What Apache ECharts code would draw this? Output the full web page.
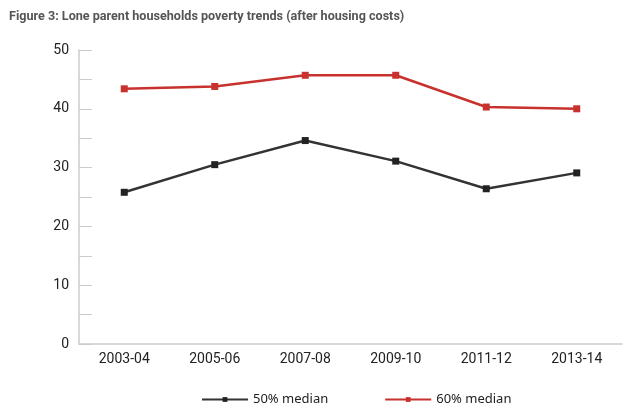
<!DOCTYPE html>
<html><head><meta charset="utf-8">
<script src="https://cdn.jsdelivr.net/npm/echarts@6/dist/echarts.min.js"></script>
<style>html,body{margin:0;padding:0;background:#fff}#c{width:632px;height:418px}</style>
</head><body><div id="c"></div>
<script>
var categories = ['2003-04','2005-06','2007-08','2009-10','2011-12','2013-14'];
var median50 = [25.8, 30.5, 34.6, 31.1, 26.4, 29.1];
var median60 = [43.4, 43.8, 45.7, 45.7, 40.3, 40.0];
var seriesNames = ['50% median','60% median'];
var yTicks = [0,10,20,30,40,50];

var chart = echarts.init(document.getElementById('c'), null, {renderer:'canvas'});
var font = '"Liberation Sans Narrow","Roboto","DejaVu Sans",sans-serif';
chart.setOption({
  animation:false,
  title:{text:'Figure 3: Lone parent households poverty trends (after housing costs)',left:4,top:5,
    textStyle:{fontFamily:font,fontSize:12.6,fontWeight:'bold',color:'#555'}},
  grid:{left:79,right:10,top:50,bottom:74},
  legend:{bottom:7,left:196,itemGap:56,itemWidth:46,itemHeight:6,
    textStyle:{fontFamily:'"Noto Sans",sans-serif',fontSize:13,color:'#222',padding:[0,0,0,0]},
    data:[seriesNames[0],seriesNames[1]]},
  xAxis:{type:'category',data:categories,boundaryGap:true,
    axisLine:{lineStyle:{color:'#ccc',width:1.5}},
    axisTick:{inside:true,length:8,lineStyle:{color:'#ccc'}},
    axisLabel:{fontFamily:font,fontSize:14,color:'#222',margin:8}},
  yAxis:{type:'value',min:0,max:50,interval:5,
    axisLine:{show:true,lineStyle:{color:'#ccc',width:1.5}},
    axisTick:{show:true,inside:true,length:13,lineStyle:{color:'#ccc'}},
    splitLine:{show:false},
    axisLabel:{fontFamily:font,fontSize:14,color:'#222',margin:10,
      formatter:function(v){return yTicks.indexOf(v)>=0?String(v):'';}}},
  series:[
    {name:seriesNames[0],type:'line',data:median50,symbol:'rect',symbolSize:7,
      lineStyle:{color:'#333',width:2.5},itemStyle:{color:'#222'}},
    {name:seriesNames[1],type:'line',data:median60,symbol:'rect',symbolSize:7,
      lineStyle:{color:'#c8322e',width:2.5},itemStyle:{color:'#c8322e'}}
  ]
});
</script></body></html>
